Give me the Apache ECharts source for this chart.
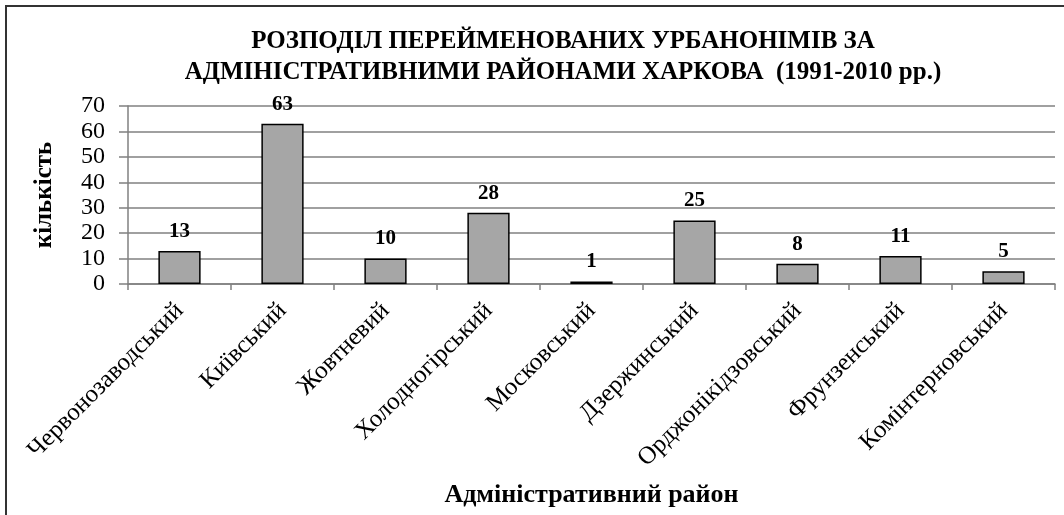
<!DOCTYPE html>
<html><head><meta charset="utf-8">
<script src="https://cdn.jsdelivr.net/npm/echarts@6/dist/echarts.min.js"></script>
<style>html,body{margin:0;padding:0;background:#fff;overflow:hidden}
#frame{position:absolute;left:5px;top:5px;width:1080px;height:530px;border:2px solid #333;}
#c{position:absolute;left:0;top:0;width:1064px;height:515px}</style>
</head><body>
<div id="frame"></div>
<div id="c"></div>
<script>
const categories = ['Червонозаводський','Київський','Жовтневий','Холодногірський','Московський','Дзержинський','Орджонікідзовський','Фрунзенський','Комінтерновський'];
const values = [13, 63, 10, 28, 1, 25, 8, 11, 5];
const titleText = 'РОЗПОДІЛ ПЕРЕЙМЕНОВАНИХ УРБАНОНІМІВ ЗА\nАДМІНІСТРАТИВНИМИ РАЙОНАМИ ХАРКОВА  (1991-2010 рр.)';
const yName = 'кількість';
const xName = 'Адміністративний район';
const serif = 'Liberation Serif';
const chart = echarts.init(document.getElementById('c'), null, {renderer:'canvas'});
chart.setOption({
  animation:false,
  title:{text:titleText, left:558, top:21, textAlign:'center',
    textStyle:{fontFamily:serif, fontWeight:'bold', fontSize:25, lineHeight:31, color:'#000'}},
  grid:{left:128, right:9, top:106, bottom:231, containLabel:false},
  xAxis:{type:'category', data:categories,
    name:xName, nameLocation:'middle', nameGap:198,
    nameTextStyle:{fontFamily:serif, fontWeight:'bold', fontSize:26, color:'#000'},
    axisLine:{lineStyle:{color:'#808080', width:1.5}},
    axisTick:{show:true, alignWithLabel:false, length:6, lineStyle:{color:'#808080', width:1.5}},
    axisLabel:{rotate:45, interval:0, fontFamily:serif, fontSize:25, color:'#000', margin:23}},
  yAxis:{type:'value', min:0, max:70, interval:10,
    name:yName, nameLocation:'middle', nameGap:71, nameRotate:90,
    nameTextStyle:{fontFamily:serif, fontWeight:'bold', fontSize:25, color:'#000'},
    axisLine:{show:true, lineStyle:{color:'#808080', width:1.5}},
    axisTick:{show:true, length:9, lineStyle:{color:'#808080', width:1.5}},
    axisLabel:{fontFamily:serif, fontSize:24, color:'#000', margin:23},
    splitLine:{lineStyle:{color:'#808080', width:1.5}}},
  series:[{type:'bar', data:values, barWidth:'41%',
    itemStyle:{color:'#a6a6a6', borderColor:'#000', borderWidth:1.5},
    label:{show:true, position:'top', distance:9, fontFamily:serif, fontWeight:'bold', fontSize:21, color:'#000'}}]
});
</script>
</body></html>
